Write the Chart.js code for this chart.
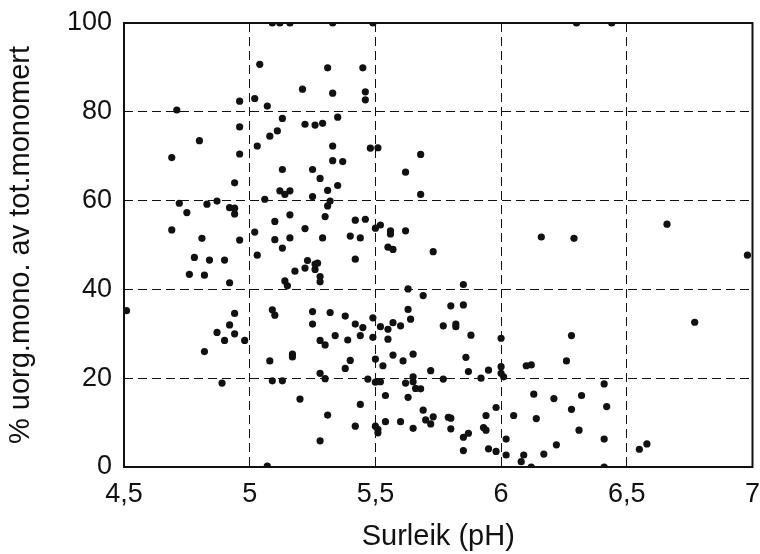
<!DOCTYPE html>
<html>
<head>
<meta charset="utf-8">
<script src="https://cdn.jsdelivr.net/npm/chart.js@4"></script>
<style>
  html, body { margin: 0; padding: 0; background: #fff; }
  #wrap { width: 760px; height: 554px; }
</style>
</head>
<body>
<div id="wrap"><canvas id="scatterChart" width="760" height="554"></canvas></div>
<script>
// pH (surleik) for each sample
const phValues = [
  5.09, 5.12, 5.16, 5.33, 5.49, 6.30, 6.44,
  5.04, 5.31, 5.45, 5.21, 5.33, 4.96, 5.02, 5.07, 4.71, 5.13, 5.35, 5.22, 5.26,
  5.29, 4.96, 5.11, 5.08, 4.80, 5.33, 5.03, 4.96, 4.69, 5.33, 5.37, 5.13, 5.25, 5.28,
  5.46, 5.46, 5.48, 5.51, 5.68, 5.62,
  4.94, 5.35, 5.31, 5.12, 5.16, 5.14, 5.25, 5.06, 5.32, 5.31, 4.72, 4.83, 4.87, 4.92,
  4.94, 4.94, 4.75, 5.16, 5.30, 5.42, 5.10, 4.69, 5.22, 5.02, 5.40, 5.44, 4.81, 4.96,
  5.10, 5.16, 5.29, 5.13, 5.03, 4.78, 4.84, 4.90, 5.42, 5.23, 5.26, 5.27, 5.22, 5.26,
  5.18, 5.28, 5.28, 4.76, 4.82, 4.92, 5.14, 5.15, 4.51, 4.94, 5.09, 5.10, 5.25, 5.32,
  5.38, 4.92, 5.25, 5.42,
  4.87, 4.94, 4.90, 4.98, 5.28, 5.30, 5.34, 5.39, 5.44, 4.82, 5.17, 5.17, 5.08, 5.40,
  5.38, 5.28, 5.30, 4.89, 5.09, 5.13, 5.20, 5.44, 5.31, 5.42, 5.28, 5.07,
  5.68, 5.46, 5.50, 5.52, 5.56, 5.56, 5.62, 5.55, 5.57, 5.73, 6.16, 6.29, 5.85, 5.63,
  5.69, 5.80, 5.85, 5.63, 5.49, 5.64, 5.57, 5.60, 5.77, 5.82, 5.82, 5.45, 5.52, 5.55,
  5.49, 5.55, 5.88, 6.00, 6.28, 5.50, 5.53, 5.57, 5.61, 5.65, 5.72, 5.86, 5.87, 5.95,
  6.00, 6.10, 6.12, 6.26, 5.47, 5.50, 5.52, 5.62, 5.65, 5.65, 5.66, 5.68, 5.77, 5.92,
  6.00, 6.01, 6.13, 6.21, 6.32, 5.54, 5.63, 5.98, 5.69, 6.28, 5.94, 6.05, 6.14, 5.73,
  5.70, 5.72, 5.79, 5.80, 5.54, 5.60, 5.65, 5.50, 5.51, 5.51, 5.80, 5.93, 5.94, 6.31,
  5.87, 5.85, 6.02, 6.22, 5.85, 5.95, 5.98, 6.02, 6.09, 6.08, 6.17, 6.12,
  6.66, 6.98, 6.77, 6.41, 6.42, 6.41, 6.55, 6.58, 6.41
];

// % uorganisk monomert Al av total monomert Al
const percentValues = [
  100, 100, 100, 100, 100, 100, 100,
  90.7, 89.9, 89.9, 85.1, 84.2, 82.4, 83.0, 81.3, 80.4, 78.5, 78.8, 77.2, 77.0,
  77.4, 76.6, 75.7, 74.5, 73.5, 72.3, 72.3, 70.5, 69.7, 69.0, 68.8, 67.0, 67.0, 65.0,
  84.5, 82.7, 71.8, 71.9, 70.4, 66.4,
  64.0, 63.4, 62.3, 62.2, 62.2, 61.4, 60.9, 60.3, 59.9, 58.8, 59.4, 59.2, 59.9, 58.4,
  58.3, 57.0, 57.3, 56.8, 56.4, 55.6, 55.3, 53.4, 53.7, 52.9, 52.0, 51.6, 51.5, 51.1,
  51.2, 51.6, 51.6, 49.3, 47.7, 47.2, 46.6, 46.6, 46.8, 46.5, 45.7, 45.9, 44.8, 44.5,
  44.1, 42.9, 41.7, 43.4, 43.2, 41.5, 41.9, 40.8, 35.2, 34.6, 35.4, 34.2, 35.0, 34.8,
  34.0, 32.0, 32.2, 32.2,
  30.3, 30.0, 28.5, 28.5, 28.5, 27.5, 29.6, 28.6, 29.6, 26.0, 25.4, 24.8, 23.9, 24.0,
  22.2, 21.1, 19.9, 18.9, 19.4, 19.4, 15.3, 14.1, 11.7, 9.2, 5.9, 0.2,
  61.4, 55.8, 53.8, 54.5, 53.2, 52.5, 53.2, 49.5, 49.0, 48.5, 51.8, 51.5, 41.1, 40.1,
  38.6, 36.3, 36.5, 35.5, 33.6, 33.3, 32.5, 31.8, 31.8, 32.2, 31.6, 31.4, 31.6, 31.0,
  29.2, 28.8, 29.7, 29.0, 29.6, 24.3, 22.8, 25.2, 23.9, 25.4, 21.7, 24.7, 21.5, 21.8,
  22.6, 22.8, 23.0, 23.9, 19.8, 19.1, 19.2, 18.9, 20.3, 19.2, 17.7, 17.6, 19.8, 20.0,
  21.1, 20.3, 16.4, 15.4, 16.1, 16.1, 15.7, 13.4, 12.8, 13.0, 11.6, 11.6, 10.9, 11.3,
  10.6, 9.7, 11.2, 11.0, 10.2, 10.2, 8.7, 9.2, 8.5, 7.7, 8.6, 8.9, 8.3, 8.3,
  7.6, 6.7, 6.3, 5.0, 3.7, 4.1, 3.5, 2.7, 2.7, 1.2, 2.9, 0,
  54.7, 47.7, 32.6, 18.7, 13.6, 6.3, 4.0, 5.2, 0
];

const xTickLabels = ["4,5", "5", "5,5", "6", "6,5", "7"];
const yTickLabels = ["0", "20", "40", "60", "80", "100"];

const points = phValues.map((x, i) => ({ x: x, y: percentValues[i] }));

// solid frame round the plot area (grid lines are dashed)
const frame = {
  id: "frame",
  beforeDatasetsDraw(chart) {
    const a = chart.chartArea;
    const ctx = chart.ctx;
    ctx.save();
    ctx.setLineDash([]);
    ctx.lineWidth = 2;
    ctx.strokeStyle = "#111";
    ctx.strokeRect(a.left, a.top, a.right - a.left, a.bottom - a.top);
    ctx.restore();
  }
};

const ctx = document.getElementById("scatterChart");

new Chart(ctx, {
  type: "scatter",
  data: {
    datasets: [{
      data: points,
      backgroundColor: "#111",
      borderWidth: 0,
      pointRadius: 3.6,
      pointHoverRadius: 3.6
    }]
  },
  options: {
    responsive: false,
    animation: false,
    events: [],
    layout: { padding: { left: 0, right: 2, top: 23, bottom: 0 } },
    plugins: {
      legend: { display: false },
      tooltip: { enabled: false }
    },
    scales: {
      x: {
        type: "linear",
        min: 4.5,
        max: 7,
        afterFit: s => { s.height = 87; },
        ticks: {
          stepSize: 0.5,
          padding: 0,
          color: "#111",
          font: { family: "Liberation Sans", size: 27 },
          callback: (v, i) => xTickLabels[i]
        },
        grid: { color: "#111", lineWidth: 1, drawTicks: true, tickLength: 11, tickColor: "rgba(0,0,0,0)" },
        border: { display: false, dash: [9, 5] },
        title: {
          display: true,
          text: "Surleik (pH)",
          color: "#111",
          font: { family: "Liberation Sans", size: 29 },
          padding: { top: 0, bottom: 0 }
        }
      },
      y: {
        min: 0,
        max: 100,
        afterFit: s => { s.width = 124; },
        ticks: {
          stepSize: 20,
          padding: 0,
          color: "#111",
          font: { family: "Liberation Sans", size: 27 },
          callback: (v, i) => yTickLabels[i]
        },
        grid: { color: "#111", lineWidth: 1, drawTicks: true, tickLength: 12, tickColor: "rgba(0,0,0,0)" },
        border: { display: false, dash: [9, 5] },
        title: {
          display: true,
          text: "% uorg.mono. av tot.monomert",
          color: "#111",
          font: { family: "Liberation Sans", size: 29 },
          padding: { top: 4, bottom: 0 }
        }
      }
    }
  },
  plugins: [frame]
});
</script>
</body>
</html>
